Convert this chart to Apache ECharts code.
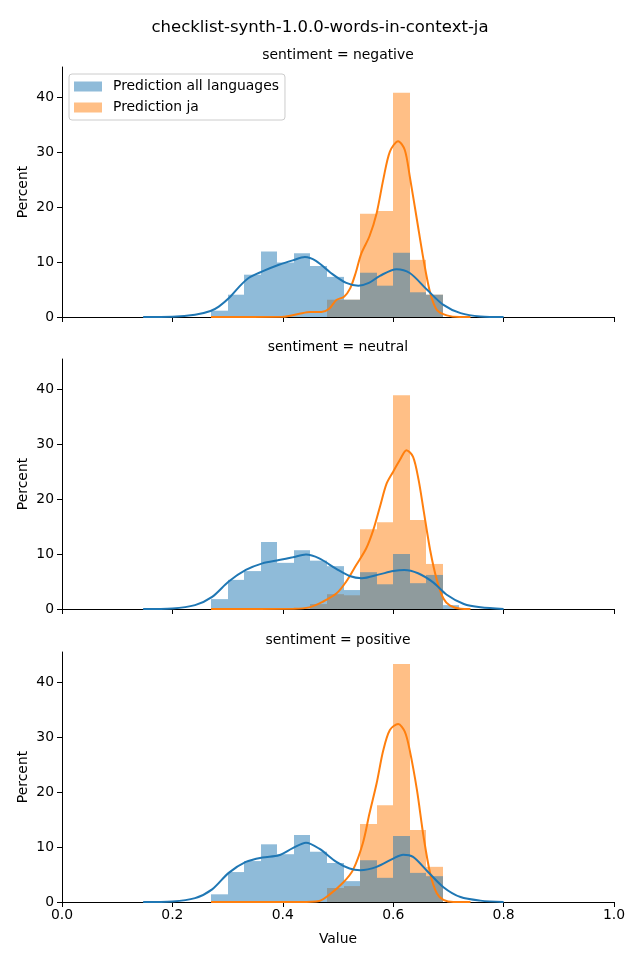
<!DOCTYPE html>
<html><head><meta charset="utf-8">
<script src="https://cdn.jsdelivr.net/npm/echarts@6/dist/echarts.min.js"></script>
<style>html,body{margin:0;padding:0;background:#fff}#c{width:640px;height:960px}</style>
</head><body><div id="c"></div><script>
// ---- data ----
const binEdges = [0.27,0.30,0.33,0.36,0.39,0.42,0.45,0.48,0.51,0.54,0.57,0.60,0.63,0.66,0.69,0.72];
const panelTitles = ['sentiment = negative','sentiment = neutral','sentiment = positive'];
const seriesNames = ['Prediction all languages','Prediction ja'];
const yTicks = [0,10,20,30,40];

const histAll_neg = [1.15,4.06,7.7,11.9,9.9,11.6,9.3,7.3,3.15,8.06,5.7,11.7,4.5,4.06,0];
const histJa_neg  = [0,0,0,0,0,0,0,3.15,3.15,18.8,19.3,40.8,10.4,4.06,0];
const histAll_neu = [1.8,5.3,6.9,12.2,8.4,10.7,8.8,7.8,3.45,6.7,4.5,10.0,4.7,6.2,0.7];
const histJa_neu  = [0,0,0,0,0,0,0.9,2.7,2.5,14.5,15.8,38.9,16.2,8.2,0];
const histAll_pos = [1.4,5.45,7.45,10.5,8.7,12.2,9.15,7.1,3.8,7.6,4.4,12.0,5.3,4.7,0];
const histJa_pos  = [0,0,0,0,0,0,0,2.55,2.9,14.2,17.6,43.3,13.1,6.4,0];

const kdeAll_neg = [[0.147,0],[0.20,0.05],[0.241,0.4],[0.269,1.1],[0.284,1.9],[0.302,3.4],[0.320,5.4],[0.338,7.1],[0.363,8.3],[0.393,9.5],[0.418,10.3],[0.44,10.9],[0.46,10.2],[0.49,7.8],[0.515,6.2],[0.537,5.7],[0.556,6.2],[0.576,7.5],[0.606,8.7],[0.630,8.0],[0.661,5.0],[0.691,2.2],[0.722,0.7],[0.758,0.1],[0.80,0]];
const kdeJa_neg  = [[0.27,0],[0.40,0.05],[0.43,0.6],[0.45,0.9],[0.47,0.9],[0.484,1.5],[0.497,3.1],[0.511,3.7],[0.522,5.2],[0.532,8.0],[0.542,11.5],[0.557,14.7],[0.570,18.9],[0.582,25.0],[0.594,30.1],[0.609,32.0],[0.621,30.4],[0.630,25.6],[0.643,17.7],[0.655,10.4],[0.667,4.4],[0.679,1.3],[0.697,0.3],[0.72,0],[0.74,0]];
const kdeAll_neu = [[0.147,0],[0.20,0.1],[0.241,0.7],[0.272,2.2],[0.302,5.0],[0.333,7.1],[0.363,8.3],[0.393,8.9],[0.418,9.4],[0.442,9.9],[0.466,9.2],[0.497,7.3],[0.521,6.0],[0.543,5.6],[0.575,6.3],[0.600,6.9],[0.620,7.1],[0.645,6.5],[0.673,4.8],[0.697,2.6],[0.728,0.9],[0.758,0.3],[0.80,0]];
const kdeJa_neu  = [[0.27,0],[0.42,0.05],[0.448,0.3],[0.472,1.3],[0.497,2.8],[0.515,5.0],[0.533,8.0],[0.551,11.0],[0.564,14.4],[0.576,18.6],[0.588,22.8],[0.600,25.0],[0.612,27.1],[0.624,28.9],[0.636,27.7],[0.646,23.5],[0.655,18.0],[0.667,10.7],[0.679,5.3],[0.691,1.9],[0.703,0.6],[0.722,0.05],[0.74,0]];
const kdeAll_pos = [[0.147,0],[0.20,0.1],[0.241,0.7],[0.272,2.3],[0.302,5.3],[0.333,7.3],[0.363,8.1],[0.393,8.5],[0.418,9.8],[0.442,10.8],[0.466,9.7],[0.497,7.3],[0.521,6.1],[0.540,5.8],[0.570,6.4],[0.600,7.9],[0.618,8.6],[0.636,8.2],[0.661,5.7],[0.691,2.7],[0.722,0.9],[0.758,0.25],[0.80,0]];
const kdeJa_pos  = [[0.27,0],[0.43,0.02],[0.466,0.2],[0.484,1.3],[0.509,3.5],[0.527,5.8],[0.545,10.7],[0.557,16.1],[0.570,21.6],[0.582,27.6],[0.594,31.3],[0.609,32.4],[0.621,31.0],[0.630,27.6],[0.643,20.4],[0.655,11.9],[0.667,5.2],[0.679,1.6],[0.691,0.4],[0.709,0],[0.74,0]];

// ---- build ----
const FONT = 'DejaVu Sans';
const FS = 13.9;
const BLUE = '#1f77b4', ORANGE = '#ff7f0e';
const BLUE_A = 'rgba(31,119,180,0.5)', ORANGE_A = 'rgba(255,127,14,0.5)';
const gridTops = [67, 359, 652];
const panels = [
  {all: histAll_neg, ja: histJa_neg, kAll: kdeAll_neg, kJa: kdeJa_neg},
  {all: histAll_neu, ja: histJa_neu, kAll: kdeAll_neu, kJa: kdeJa_neu},
  {all: histAll_pos, ja: histJa_pos, kAll: kdeAll_pos, kJa: kdeJa_pos}
];
function histData(vals){ return vals.map((v,i)=>[binEdges[i], binEdges[i+1], v]); }
function renderer(color){
  return function(params, api){
    const p0 = api.coord([api.value(0), api.value(2)]);
    const p1 = api.coord([api.value(1), 0]);
    const x0 = Math.round(p0[0]), x1 = Math.round(p1[0]);
    return {type:'rect', shape:{x:x0, y:p0[1], width:x1-x0, height:p1[1]-p0[1]}, style:{fill:color}};
  };
}
const grids = [], xAxes = [], yAxes = [], series = [], titles = [];
titles.push({text:'checklist-synth-1.0.0-words-in-context-ja', left:'center', top:19, padding:0,
  textStyle:{fontFamily:FONT, fontSize:16.5, fontWeight:'normal', color:'#000'}});
panels.forEach((p,k)=>{
  grids.push({left:62, width:552, top:gridTops[k], height:250});
  titles.push({text:panelTitles[k], left:338, textAlign:'center', top:gridTops[k]-19, padding:0,
    textStyle:{fontFamily:FONT, fontSize:FS, fontWeight:'normal', color:'#000'}});
  xAxes.push({type:'value', gridIndex:k, min:0, max:1, interval:0.2,
    axisLine:{show:true, onZero:false, lineStyle:{color:'#000', width:1}},
    axisTick:{show:true, length:5, lineStyle:{color:'#000'}},
    axisLabel:{show:k===2, fontFamily:FONT, fontSize:FS, color:'#000', margin:6, formatter:v=>v.toFixed(1)},
    splitLine:{show:false},
    name: k===2 ? 'Value' : '', nameLocation:'middle', nameGap:30, nameMoveOverlap:false,
    nameTextStyle:{fontFamily:FONT, fontSize:FS, color:'#000'}});
  yAxes.push({type:'value', gridIndex:k, min:0, max:45.5,
    axisLine:{show:true, lineStyle:{color:'#000', width:1}},
    axisTick:{show:true, length:5, lineStyle:{color:'#000'}, customValues:yTicks},
    axisLabel:{fontFamily:FONT, fontSize:FS, color:'#000', margin:8, customValues:yTicks},
    splitLine:{show:false},
    name:'Percent', nameLocation:'middle', nameGap:32, nameRotate:90, nameMoveOverlap:false,
    nameTextStyle:{fontFamily:FONT, fontSize:FS, color:'#000'}});
  series.push({type:'custom', name:seriesNames[1], xAxisIndex:k, yAxisIndex:k, data:histData(p.ja),
    encode:{x:[0,1], y:2}, itemStyle:{color:ORANGE_A}, renderItem:renderer(ORANGE_A), z:2, silent:true});
  series.push({type:'custom', name:seriesNames[0], xAxisIndex:k, yAxisIndex:k, data:histData(p.all),
    encode:{x:[0,1], y:2}, itemStyle:{color:BLUE_A}, renderItem:renderer(BLUE_A), z:3, silent:true});
  series.push({type:'line', name:'kde ja '+k, xAxisIndex:k, yAxisIndex:k, data:p.kJa, showSymbol:false,
    smooth:0.3, lineStyle:{width:2, color:ORANGE}, itemStyle:{color:ORANGE}, z:4, silent:true});
  series.push({type:'line', name:'kde all '+k, xAxisIndex:k, yAxisIndex:k, data:p.kAll, showSymbol:false,
    smooth:0.3, lineStyle:{width:2, color:BLUE}, itemStyle:{color:BLUE}, z:5, silent:true});
});
const chart = echarts.init(document.getElementById('c'), null, {renderer:'canvas'});
chart.setOption({
  animation:false,
  backgroundColor:'#fff',
  title:titles,
  grid:grids, xAxis:xAxes, yAxis:yAxes, series:series,
  legend:{data:seriesNames, left:69, top:74, orient:'vertical', icon:'rect', itemWidth:28, itemHeight:10,
    itemGap:6, padding:[5,6,5,5], borderColor:'#cccccc', borderWidth:1, borderRadius:3,
    backgroundColor:'rgba(255,255,255,0.8)', selectedMode:false,
    textStyle:{fontFamily:FONT, fontSize:FS, color:'#000', lineHeight:15, padding:[0,0,0,6]}}
});
</script></body></html>
